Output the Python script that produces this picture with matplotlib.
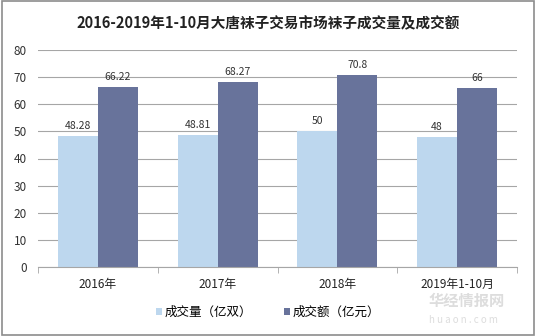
import numpy as np
import matplotlib.pyplot as plt
from matplotlib.patches import Rectangle

plt.rcParams['font.family'] = ['Noto Sans CJK SC', 'DejaVu Sans']

categories = ["2016年", "2017年", "2018年", "2019年1-10月"]
volume = [48.28, 48.81, 50, 48]
turnover = [66.22, 68.27, 70.8, 66]
volume_labels = ["48.28", "48.81", "50", "48"]
turnover_labels = ["66.22", "68.27", "70.8", "66"]

c_light = "#bdd7ee"
c_dark = "#68739b"

fig = plt.figure(figsize=(5.36, 3.36), dpi=100)
ax = fig.add_axes([38 / 536, 1 - 267 / 336, 479 / 536, 217 / 336])

x = np.arange(len(categories))
w = 1 / 3
b1 = ax.bar(x - w / 2, volume, w, color=c_light, label="成交量（亿双）", zorder=2)
b2 = ax.bar(x + w / 2, turnover, w, color=c_dark, label="成交额（亿元）", zorder=2)
for bars, labs in ((b1, volume_labels), (b2, turnover_labels)):
    for r, t in zip(bars, labs):
        ax.text(r.get_x() + r.get_width() / 2, r.get_height() + 1.8, t,
                ha="center", va="bottom", fontsize=7.5, color="#333333")

ax.set_xlim(-0.5, len(categories) - 0.5)
ax.set_ylim(0, 80)
ax.set_yticks(range(0, 81, 10))
ax.yaxis.grid(True, color="#a6a6a6", linewidth=0.8, zorder=0)
ax.set_axisbelow(True)
for s in ("left", "right", "top"):
    ax.spines[s].set_visible(False)
ax.spines["bottom"].set_color("#a6a6a6")
ax.tick_params(axis="y", length=0, labelsize=8.5, colors="#333333", pad=8)
ax.set_xticks(x)
ax.set_xticklabels(categories, fontsize=8.5, color="#222222")
ax.set_xticks(np.arange(-0.5, len(categories)), minor=True)
ax.tick_params(axis="x", which="major", length=0, pad=8)
ax.tick_params(axis="x", which="minor", length=4, direction="out", color="#a6a6a6")

fig.suptitle("2016-2019年1-10月大唐袜子交易市场袜子成交量及成交额",
             x=0.5, y=0.955, fontsize=10.5, fontweight="bold", color="#222222")

fig.legend(handles=[b1, b2], loc="center", bbox_to_anchor=(0.5, 1 - 312 / 336),
           ncol=2, frameon=False, fontsize=9, handlelength=0.5, handleheight=0.5,
           handletextpad=0.2, columnspacing=2.5)

fig.text(0.80, 1 - 301 / 336, "华经情报网", fontsize=11, color="#dddddd", fontweight="bold",
         ha="left", va="center")
fig.text(0.80, 1 - 320 / 336, "h u a o n . c o m", fontsize=7, color="#dddddd",
         ha="left", va="center")

fig.add_artist(Rectangle((0.004, 0.004), 0.992, 0.992, transform=fig.transFigure,
                         fill=False, edgecolor="#8c8c8c", linewidth=1.2))

fig.savefig("out.png", dpi=100)
